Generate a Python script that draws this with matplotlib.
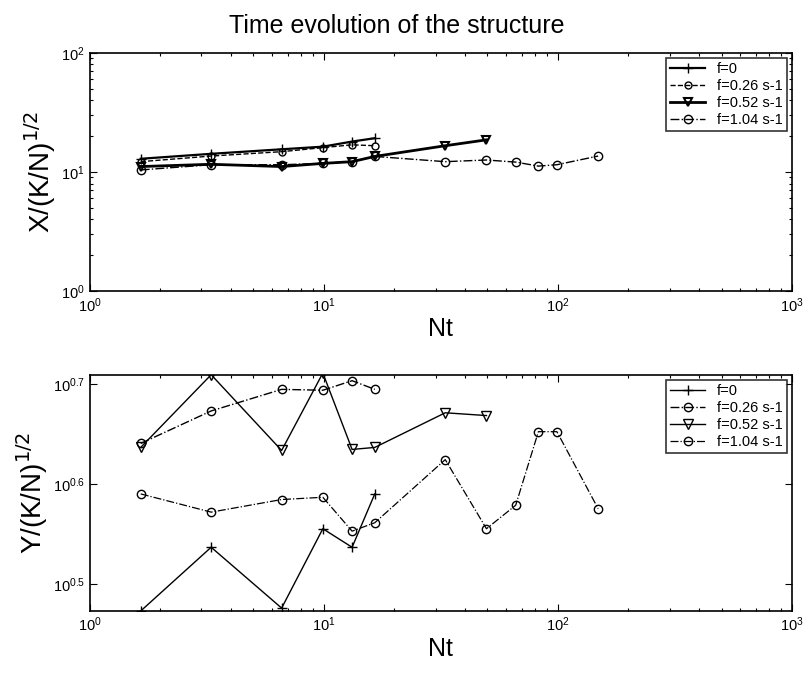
import matplotlib
matplotlib.use('Agg')
import matplotlib.pyplot as plt
from matplotlib.ticker import NullLocator, NullFormatter

plt.rcParams['font.family'] = ['Liberation Sans', 'DejaVu Sans']

# Nt values of each series
nt_f0 = [1.65, 3.3, 6.6, 9.9, 13.2, 16.5]
nt_f026 = [1.65, 3.3, 6.6, 9.9, 13.2, 16.5]
nt_f052 = [1.65, 3.3, 6.6, 9.9, 13.2, 16.5, 33, 49.5]
nt_f104 = [1.65, 3.3, 6.6, 9.9, 13.2, 16.5, 33, 49.5, 66, 82.5, 99, 148.5]

# X/(K/N)^1/2
x_f0 = [12.9, 14.2, 15.5, 16.3, 18.0, 19.2]
x_f026 = [12.2, 13.6, 14.8, 16.0, 16.9, 16.6]
x_f052 = [11.1, 11.6, 11.1, 11.8, 12.2, 13.5, 16.6, 18.6]
x_f104 = [10.4, 11.5, 11.5, 11.8, 12.2, 13.5, 12.2, 12.6, 12.1, 11.2, 11.5, 13.6]

# Y/(K/N)^1/2
y_f0 = [2.97, 3.44, 2.99, 3.59, 3.44, 3.89]
y_f026 = [4.37, 4.71, 4.95, 4.94, 5.05, 4.95]
y_f052 = [4.33, 5.12, 4.30, 5.14, 4.31, 4.33, 4.69, 4.66]
y_f104 = [3.89, 3.73, 3.84, 3.86, 3.57, 3.64, 4.21, 3.59, 3.79, 4.49, 4.49, 3.76]

labels = ['f=0', 'f=0.26 s-1', 'f=0.52 s-1', 'f=1.04 s-1']

fig = plt.figure(figsize=(8.09, 6.77), dpi=100)
ax1 = fig.add_axes([0.111, 0.570, 0.868, 0.352])
ax2 = fig.add_axes([0.111, 0.0975, 0.868, 0.349])


def style_axes(ax):
    ax.set_xscale('log')
    ax.set_yscale('log')
    ax.set_xlim(1, 1000)
    ax.tick_params(which='both', direction='in', top=True, right=True,
                   labelsize=10.5, width=0.8)
    ax.tick_params(which='major', length=5)
    ax.tick_params(which='minor', length=2.5)
    for s in ax.spines.values():
        s.set_linewidth(1.2)
    ax.set_xlabel('Nt', fontsize=18, labelpad=2)


# top panel
ax1.plot(nt_f0, x_f0, '-', marker='+', color='black', lw=1.6, ms=7, label=labels[0])
ax1.plot(nt_f026, x_f026, '--', marker='o', color='black', lw=1.0, ms=5,
         mfc='none', label=labels[1])
ax1.plot(nt_f052, x_f052, '-', marker='v', color='black', lw=2.0, ms=6,
         mfc='none', mew=1.5, label=labels[2])
ax1.plot(nt_f104, x_f104, '-.', marker='o', color='black', lw=1.0, ms=6,
         mfc='none', label=labels[3])
style_axes(ax1)
ax1.set_ylim(1, 100)
ax1.set_ylabel('X/(K/N)$^{1/2}$', fontsize=20, labelpad=2)
fig.text(0.49, 0.962, 'Time evolution of the structure', fontsize=18,
         ha='center', va='center')

# bottom panel
ax2.plot(nt_f0, y_f0, '-', marker='+', color='black', lw=1.0, ms=7, label=labels[0])
ax2.plot(nt_f026, y_f026, '-.', marker='o', color='black', lw=1.0, ms=6,
         mfc='none', label=labels[1])
ax2.plot(nt_f052, y_f052, '-', marker='v', color='black', lw=1.0, ms=7,
         mfc='none', label=labels[2])
ax2.plot(nt_f104, y_f104, '-.', marker='o', color='black', lw=0.9, ms=6,
         mfc='none', label=labels[3])
style_axes(ax2)
ax2.set_ylim(2.97, 5.12)
ax2.yaxis.set_minor_locator(NullLocator())
ax2.yaxis.set_minor_formatter(NullFormatter())
ax2.set_yticks([10 ** 0.5, 10 ** 0.6, 10 ** 0.7])
ax2.set_yticklabels([r'$\mathdefault{10^{0.5}}$', r'$\mathdefault{10^{0.6}}$',
                     r'$\mathdefault{10^{0.7}}$'])
ax2.set_ylabel('Y/(K/N)$^{1/2}$', fontsize=20, labelpad=2)

for ax in (ax1, ax2):
    leg = ax.legend(loc='upper right', fontsize=10.5, frameon=True, fancybox=False,
                    edgecolor='black', handlelength=2.4, borderpad=0.3,
                    labelspacing=0.2, borderaxespad=0.35)
    leg.get_frame().set_linewidth(1.2)

fig.savefig('out.png', dpi=100)
